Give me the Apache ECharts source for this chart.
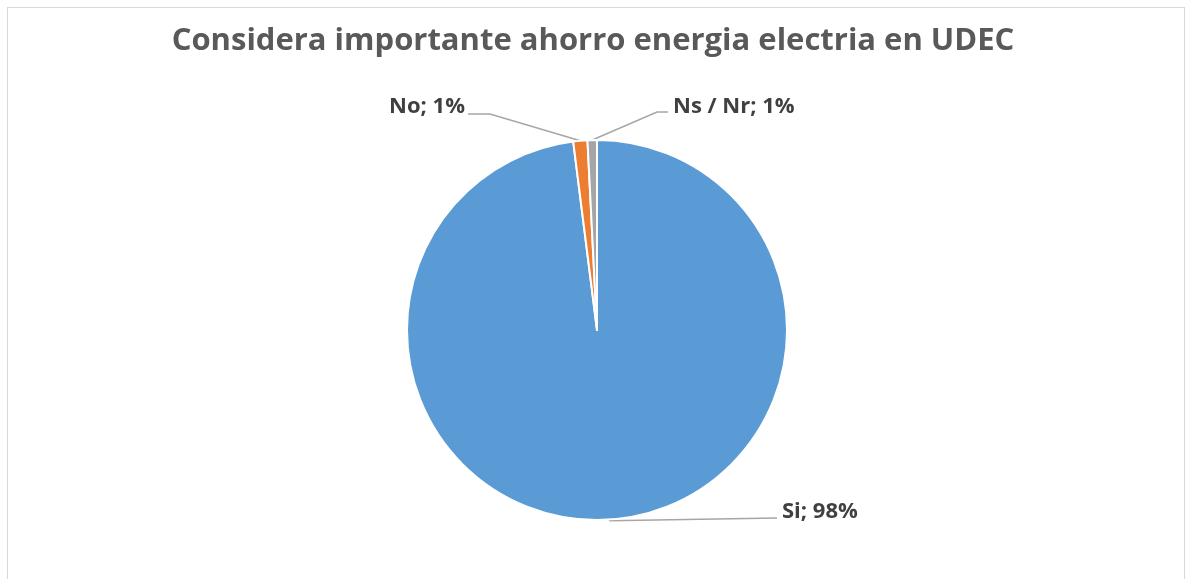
<!DOCTYPE html>
<html><head><meta charset="utf-8">
<script src="https://cdn.jsdelivr.net/npm/echarts@6/dist/echarts.min.js"></script>
<style>
html,body{margin:0;padding:0;background:#fff;}
#frame{position:absolute;left:7px;top:7px;width:1178px;height:600px;border:1px solid #d9d9d9;box-sizing:border-box;}
#chart{position:absolute;left:0;top:0;width:1186px;height:579px;}
</style></head>
<body><div id="frame"></div><div id="chart"></div>
<script>
const titleText = 'Considera importante ahorro energia electria en UDEC';
const categories = ['Si', 'No', 'Ns / Nr'];
const values = [98.0, 1.2, 0.8];
const colors = ['#5b9bd5', '#ed7d31', '#a5a5a5'];

const chart = echarts.init(document.getElementById('chart'));
const total = values.reduce((a, b) => a + b, 0);
const cx = 597, cy = 330, R = 190;

// label anchor placements (offsets relative to pie center), per category
const labelPlace = {
  'Si':      { elbow: [180, 188], x: 185, y: 182, align: 'left' },
  'No':      { elbow: [-107, -216], end: [-129, -216], x: -132, y: -223, align: 'right' },
  'Ns / Nr': { elbow: [60, -218], end: [71, -218], x: 76, y: -223, align: 'left' }
};

chart.setOption({
  animation: false,
  title: {
    text: titleText, left: 'center', top: 21,
    textStyle: { fontFamily: 'Open Sans', fontWeight: 'bold', fontSize: 31, color: '#595959' }
  },
  series: [{
    type: 'pie',
    center: [cx, cy],
    radius: R,
    startAngle: 90,
    clockwise: true,
    avoidLabelOverlap: false,
    itemStyle: { borderColor: '#ffffff', borderWidth: 2 },
    label: {
      show: true,
      position: 'outside',
      fontFamily: 'Open Sans', fontWeight: 'bold', fontSize: 22, color: '#404040',
      formatter: p => p.name + '; ' + Math.round(p.value / total * 100) + '%'
    },
    labelLine: { show: true, length: 10, length2: 10, smooth: false, lineStyle: { color: '#a6a6a6', width: 1.5 } },
    labelLayout: function (params) {
      const name = categories[params.dataIndex];
      const lp = labelPlace[name];
      const pts = params.labelLinePoints;
      const start = pts ? pts[0] : [cx, cy];
      let linePts;
      if (name === 'Si') {
        linePts = [start, [start[0] + 1, start[1] + 1], [cx + lp.elbow[0], cy + lp.elbow[1]]];
      } else {
        linePts = [start, [cx + lp.elbow[0], cy + lp.elbow[1]], [cx + lp.end[0], cy + lp.end[1]]];
      }
      return {
        x: cx + lp.x, y: cy + lp.y,
        align: lp.align, verticalAlign: 'middle',
        labelLinePoints: linePts
      };
    },
    data: categories.map((c, i) => ({ name: c, value: values[i], itemStyle: { color: colors[i] } }))
  }]
});
</script></body></html>
